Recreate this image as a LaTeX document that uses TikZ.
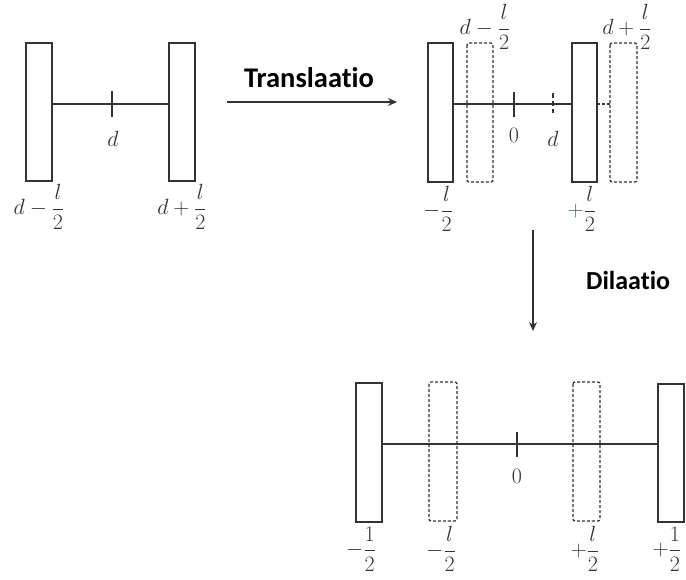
\RequirePackage{fix-cm}
\documentclass[tikz,border=0pt]{standalone}
\usepackage{amsmath}
\usepackage{fontspec}
\newfontfamily\labelfont[Ligatures=NoCommon]{Carlito}
\usetikzlibrary{arrows.meta}
\definecolor{ink}{HTML}{333333}
\definecolor{plusgreen}{HTML}{3F6E3F}
\tikzset{
  plate/.style={draw=ink, line width=1.3pt, fill=white},
  ghost/.style={draw=ink, line width=1.3pt, dash pattern=on 3pt off 2pt, rounded corners=2pt},
  axis/.style={draw=ink, line width=1.1pt},
  tickmark/.style={draw=ink, line width=2.2pt},
  mlabel/.style={text=ink, font=\fontsize{22}{26}\selectfont, inner sep=0pt},
  steplabel/.style={text=black, font=\labelfont\bfseries\fontsize{26}{30}\selectfont, inner sep=0pt},
  steparrow/.style={draw=ink, line width=1.3pt, -{Stealth[length=9pt,width=8pt]}}
}
\begin{document}
\begin{tikzpicture}[x=1pt,y=-1pt]
\useasboundingbox (0,0) rectangle (686,579);

% ---- original segment
\draw[axis] (52,104) -- (169,104);
\draw[plate] (26,43) rectangle (52,181);
\draw[plate] (169,43) rectangle (195,181);
\draw[tickmark] (112,91) -- (112,117);
\node[mlabel] (d1) at (113,139) {$d$};
\node[mlabel] (a1) at (39,207) {$d-\dfrac{l}{2}$};
\node[mlabel] (b1) at (182,207) {$d+\dfrac{l}{2}$};

% ---- translation step
\coordinate (tS) at (227,102);
\coordinate (tE) at (397,102);
\draw[steparrow] (tS) -- (tE);
\node[steplabel, font=\labelfont\bfseries\fontsize{28.5}{32}\selectfont] (tl) at (309,78) {Translaatio};

% ---- translated segment
\draw[axis] (453,104) -- (572,104);
\draw[axis, dash pattern=on 3pt off 2pt] (597,104) -- (610,104);
\draw[ghost] (467,43) rectangle (493,182);
\draw[ghost] (610,43) rectangle (637,182);
\draw[plate] (428,43) rectangle (453,182);
\draw[plate] (572,43) rectangle (597,182);
\draw[tickmark] (514,92) -- (514,117);
\draw[tickmark, dash pattern=on 5pt off 3pt] (553,93) -- (553,113);
\node[mlabel] (z2) at (514,135) {$0$};
\node[mlabel] (d2) at (553,139) {$d$};
\node[mlabel] (a2) at (485,27) {$d-\dfrac{l}{2}$};
\node[mlabel] (b2) at (627,27) {$d+\dfrac{l}{2}$};
\node[mlabel] (c2) at (438,209) {$-\dfrac{l}{2}$};
\node[mlabel] (e2) at (582,209) {$\textcolor{plusgreen}{+}\dfrac{l}{2}$};

% ---- dilation step
\coordinate (dS) at (533,230);
\coordinate (dE) at (533,331);
\draw[steparrow] (dS) -- (dE);
\node[steplabel, anchor=west] (dl) at (586,280) {Dilaatio};

% ---- dilated segment
\draw[axis] (382,444) -- (658,444);
\draw[ghost] (429,382) rectangle (457,521);
\draw[ghost] (573,382) rectangle (600,521);
\draw[plate] (356,383) rectangle (382,522);
\draw[plate] (658,384) rectangle (684,522);
\draw[tickmark] (517,432) -- (517,457);
\node[mlabel] (z3) at (517,476) {$0$};
\node[mlabel] (a3) at (361,549) {$-\dfrac{1}{2}$};
\node[mlabel] (b3) at (441,549) {$-\dfrac{l}{2}$};
\node[mlabel] (c3) at (585,549) {$+\dfrac{l}{2}$};
\node[mlabel] (e3) at (667,549) {$+\dfrac{1}{2}$};
\end{tikzpicture}
\end{document}
